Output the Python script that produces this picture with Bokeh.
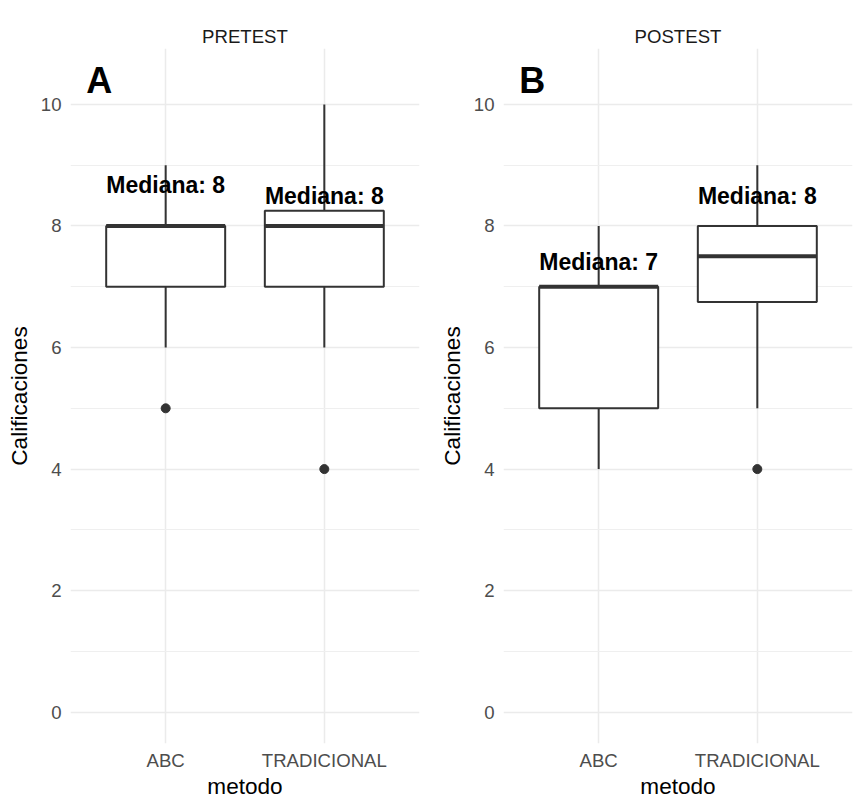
from bokeh.plotting import figure
from bokeh.layouts import row
from bokeh.models import FixedTicker, Range1d
from bokeh.core.properties import value
from bokeh.embed import file_html
from bokeh.resources import INLINE

categories = ["ABC", "TRADICIONAL"]
phases = ["PRETEST", "POSTEST"]
panel_tags = ["A", "B"]

pre_whisker_low = [6, 6]
pre_q1 = [7, 7]
pre_median = [8, 8]
pre_q3 = [8, 8.25]
pre_whisker_high = [9, 10]
pre_outliers = [[5], [4]]
pre_label_y = [8.67, 8.5]

post_whisker_low = [4, 5]
post_q1 = [5, 6.75]
post_median = [7, 7.5]
post_q3 = [7, 8]
post_whisker_high = [8, 9]
post_outliers = [[], [4]]
post_label_y = [7.4, 8.5]

y_ticks = [0, 2, 4, 6, 8, 10]
tag_y = 10.4

FONT = "Liberation Sans"
LINE = "#333333"

def make_panel(title, tag, wl, q1, med, q3, wh, outs, label_y, left_border, right_border):
    p = figure(frame_width=349, frame_height=695, output_backend="svg", toolbar_location=None,
               x_range=Range1d(-0.6, 1.6), y_range=Range1d(-0.515, 10.92),
               min_border_left=left_border, min_border_right=right_border,
               min_border_top=48, min_border_bottom=60,
               title=title)
    p.title.align = "center"
    p.title.text_font = FONT
    p.title.text_font_size = "18.6px"
    p.title.text_font_style = "normal"
    p.title.text_color = "#1A1A1A"
    p.title.standoff = 4
    p.outline_line_color = None
    p.background_fill_color = "white"
    p.border_fill_color = "white"

    xs = list(range(len(categories)))
    p.xgrid.ticker = FixedTicker(ticks=xs)
    p.xgrid.grid_line_color = "#EBEBEB"
    p.xgrid.grid_line_width = 1.5
    p.ygrid.ticker = FixedTicker(ticks=y_ticks, minor_ticks=[1, 3, 5, 7, 9])
    p.ygrid.grid_line_color = "#EBEBEB"
    p.ygrid.grid_line_width = 1.5
    p.ygrid.minor_grid_line_color = "#EFEFEF"
    p.ygrid.minor_grid_line_width = 1.2

    p.xaxis.ticker = FixedTicker(ticks=xs)
    p.xaxis.major_label_overrides = {i: c for i, c in enumerate(categories)}
    p.yaxis.ticker = FixedTicker(ticks=y_ticks)
    for ax in (p.xaxis[0], p.yaxis[0]):
        ax.axis_line_color = None
        ax.major_tick_line_color = None
        ax.minor_tick_line_color = None
        ax.major_tick_out = 0
        ax.major_tick_in = 0
        ax.minor_tick_out = 0
        ax.major_label_text_font = FONT
        ax.major_label_text_font_size = "18.6px"
        ax.major_label_text_color = "#4D4D4D"
        ax.axis_label_text_font = FONT
        ax.axis_label_text_font_size = "22.6px"
        ax.axis_label_text_font_style = "normal"
        ax.axis_label_text_color = "black"
    p.xaxis.axis_label = "metodo"
    p.yaxis.axis_label = "Calificaciones"
    p.xaxis.major_label_standoff = 6
    p.xaxis.axis_label_standoff = 0
    p.yaxis.major_label_standoff = 9
    p.yaxis.axis_label_standoff = 6

    p.segment(x0=xs, y0=wl, x1=xs, y1=q1, line_color=LINE, line_width=2)
    p.segment(x0=xs, y0=q3, x1=xs, y1=wh, line_color=LINE, line_width=2)
    left = [x - 0.375 for x in xs]
    right = [x + 0.375 for x in xs]
    p.quad(left=left, right=right, bottom=q1, top=q3, fill_color="white",
           line_color=LINE, line_width=2)
    p.segment(x0=left, y0=med, x1=right, y1=med, line_color=LINE, line_width=4)
    ox, oy = [], []
    for x, o in zip(xs, outs):
        for v in o:
            ox.append(x)
            oy.append(v)
    if ox:
        p.scatter(x=ox, y=oy, size=9, fill_color=LINE, line_color=LINE)
    texts = ["Mediana: %d" % int(round(m)) for m in med]
    p.text(x=xs, y=label_y, text=texts, text_font=value(FONT), text_font_size="23px",
           text_font_style="bold", text_color="black", text_align="center",
           text_baseline="middle")
    p.text(x=[-0.5], y=[tag_y], text=[tag], text_font=value(FONT), text_font_size="36px",
           text_font_style="bold", text_color="black", text_align="left",
           text_baseline="middle")
    return p

p1 = make_panel(phases[0], panel_tags[0], pre_whisker_low, pre_q1, pre_median, pre_q3,
                pre_whisker_high, pre_outliers, pre_label_y, 70, 17)
p2 = make_panel(phases[1], panel_tags[1], post_whisker_low, post_q1, post_median, post_q3,
                post_whisker_high, post_outliers, post_label_y, 66, 4)

layout = row(p1, p2)
open("out.html", "w").write(file_html(layout, INLINE))
